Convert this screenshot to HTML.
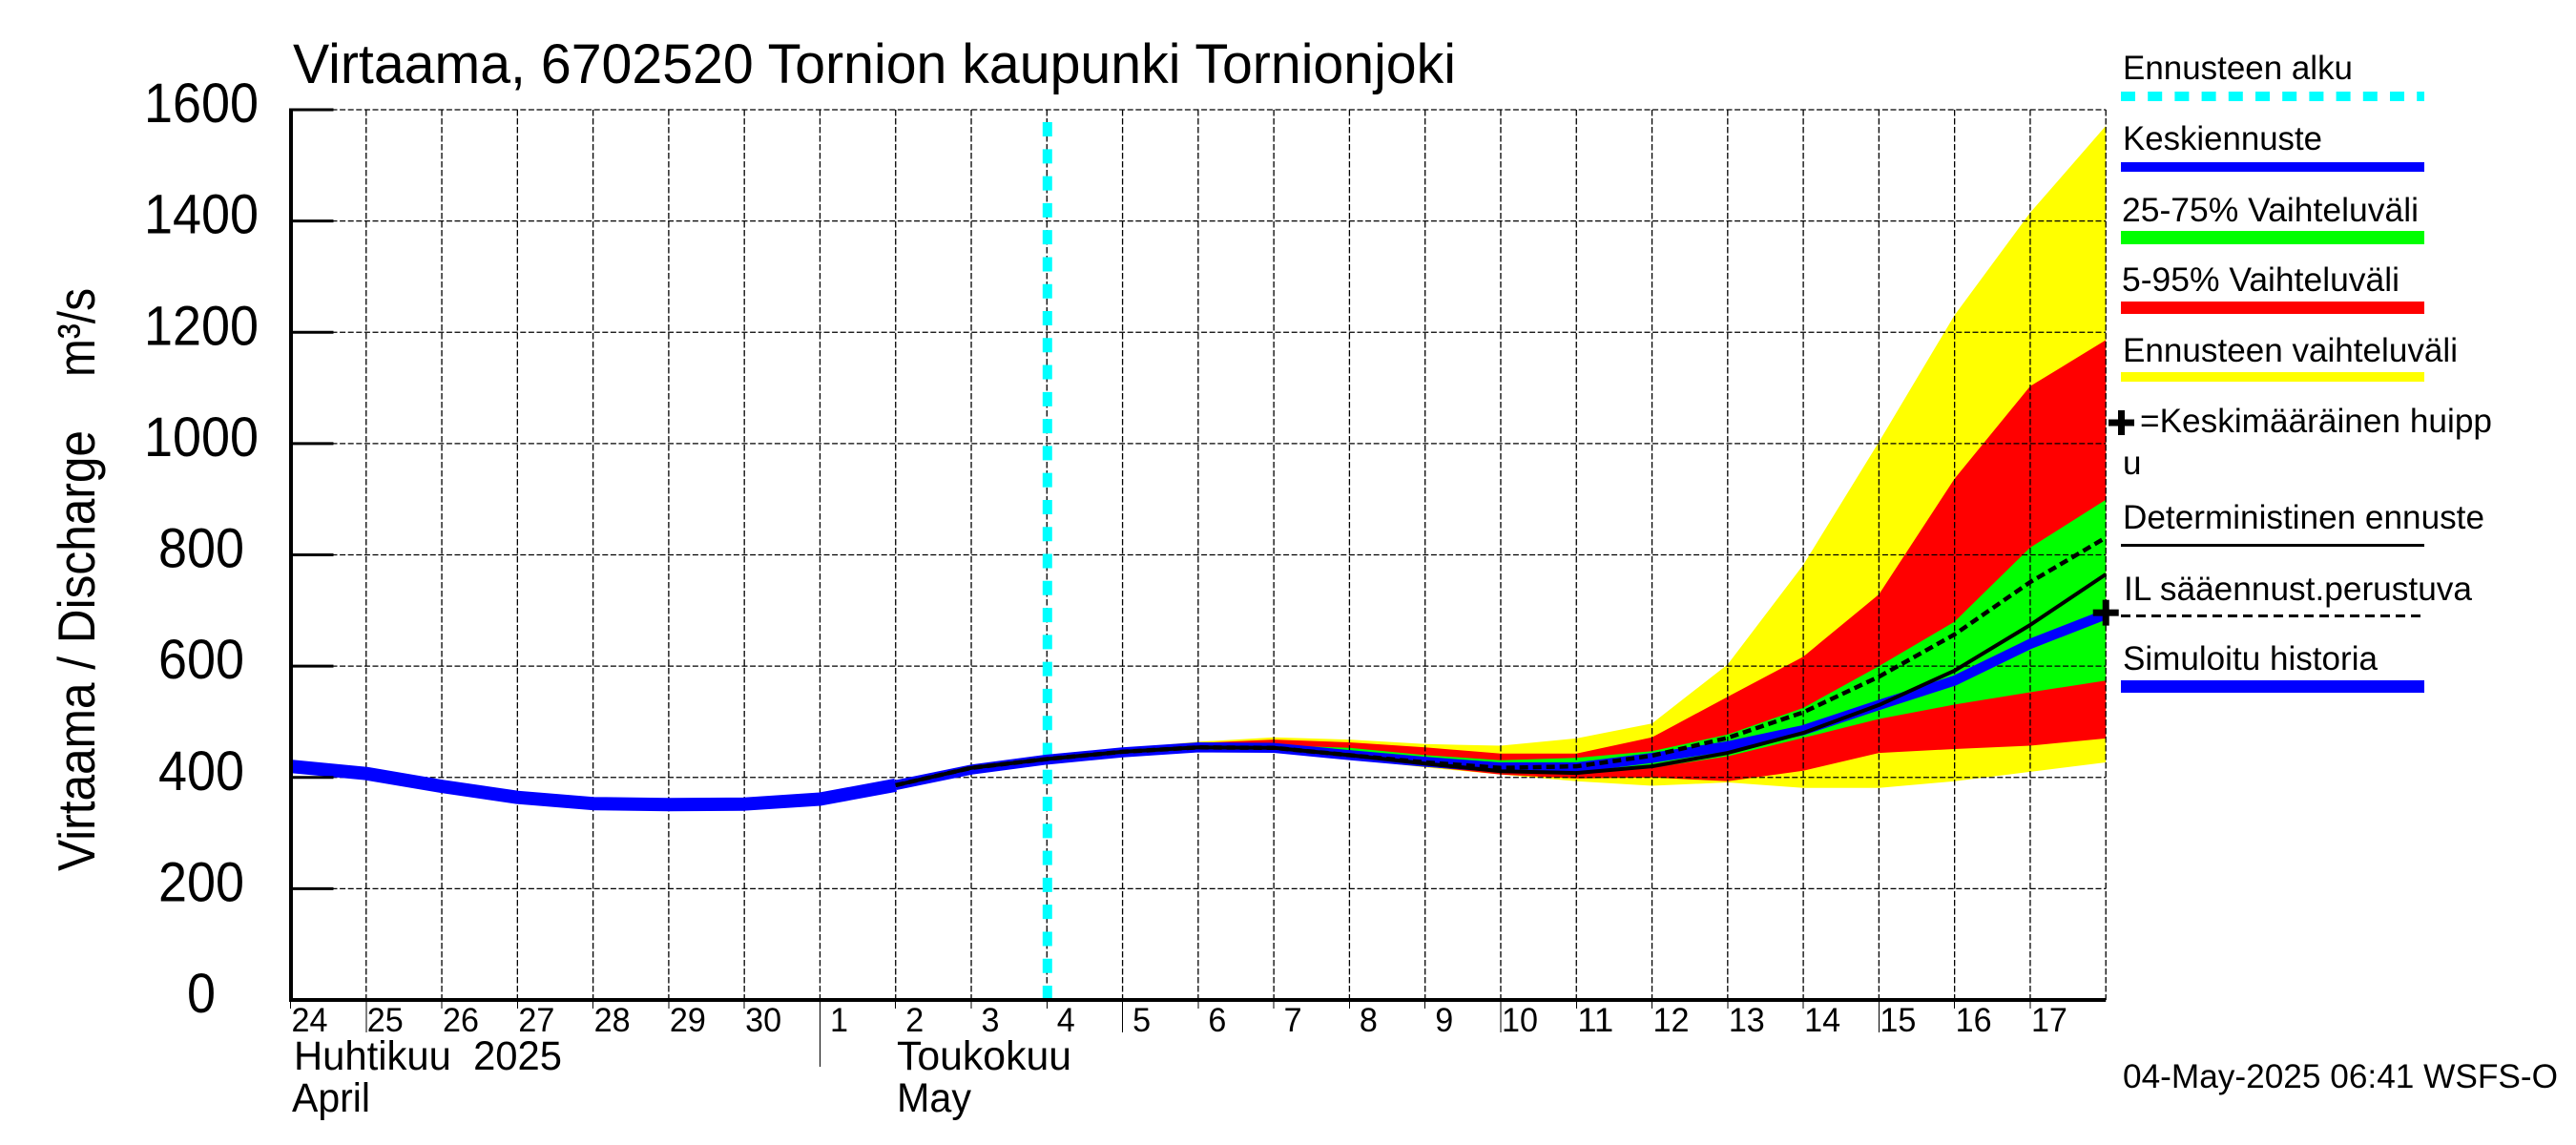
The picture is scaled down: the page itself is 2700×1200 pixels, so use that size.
<!DOCTYPE html>
<html lang="fi">
<head>
<meta charset="utf-8">
<title>Virtaama, 6702520 Tornion kaupunki Tornionjoki</title>
<style>
html,body{margin:0;padding:0;background:#fff;width:2700px;height:1200px;overflow:hidden}
svg{display:block}
text{font-family:"Liberation Sans",sans-serif;fill:#000}
</style>
</head>
<body>
<svg id="chart" xmlns="http://www.w3.org/2000/svg" width="2700" height="1200" viewBox="0 0 2700 1200">
  <rect x="0" y="0" width="2700" height="1200" fill="#fff"/>
  <g id="bands"></g>
  <g id="grid"></g>
  <g id="start"></g>
  <g id="series"></g>
  <g id="axes"></g>

  <text x="307" y="87" font-size="58" textLength="1219" lengthAdjust="spacingAndGlyphs">Virtaama, 6702520 Tornion kaupunki Tornionjoki</text>
  <text transform="translate(99,913) rotate(-90)" font-size="55" textLength="462" lengthAdjust="spacingAndGlyphs">Virtaama / Discharge</text>
  <text transform="translate(99,395) rotate(-90)" font-size="55" textLength="93" lengthAdjust="spacingAndGlyphs">m³/s</text>

  <text x="308" y="1121" font-size="43" textLength="281" lengthAdjust="spacingAndGlyphs" xml:space="preserve">Huhtikuu  2025</text>
  <text x="306" y="1165" font-size="43" textLength="82" lengthAdjust="spacingAndGlyphs">April</text>
  <text x="940" y="1121" font-size="43" textLength="183" lengthAdjust="spacingAndGlyphs">Toukokuu</text>
  <text x="940" y="1165" font-size="43" textLength="78" lengthAdjust="spacingAndGlyphs">May</text>

  <g>
    <text x="2225" y="83" font-size="35" textLength="241" lengthAdjust="spacingAndGlyphs">Ennusteen alku</text>
    <line x1="2223" y1="101" x2="2541" y2="101" stroke="#00ffff" stroke-width="10" stroke-dasharray="15 13.2"/>
    <text x="2225" y="157" font-size="35" textLength="209" lengthAdjust="spacingAndGlyphs">Keskiennuste</text>
    <rect x="2223" y="170" width="318" height="10" fill="#0000ff"/>
    <text x="2224" y="232" font-size="35" textLength="311" lengthAdjust="spacingAndGlyphs">25-75% Vaihteluväli</text>
    <rect x="2223" y="242" width="318" height="14" fill="#00ff00"/>
    <text x="2224" y="305" font-size="35" textLength="291" lengthAdjust="spacingAndGlyphs">5-95% Vaihteluväli</text>
    <rect x="2223" y="316" width="318" height="13" fill="#ff0000"/>
    <text x="2225" y="379" font-size="35" textLength="351" lengthAdjust="spacingAndGlyphs">Ennusteen vaihteluväli</text>
    <rect x="2223" y="390" width="318" height="10" fill="#ffff00"/>
    <g>
      <rect x="2210" y="439.5" width="27" height="7" fill="#000"/>
      <rect x="2220" y="430" width="7" height="26" fill="#000"/>
    </g>
    <text x="2243" y="453" font-size="35" textLength="369" lengthAdjust="spacingAndGlyphs">=Keskimääräinen huipp</text>
    <text x="2225" y="497" font-size="35">u</text>
    <text x="2225" y="554" font-size="35" textLength="379" lengthAdjust="spacingAndGlyphs">Deterministinen ennuste</text>
    <rect x="2223" y="570" width="318" height="3" fill="#000"/>
    <text x="2226" y="629" font-size="35" textLength="365" lengthAdjust="spacingAndGlyphs">IL sääennust.perustuva</text>
    <line x1="2223" y1="645.5" x2="2541" y2="645.5" stroke="#000" stroke-width="3" stroke-dasharray="10 6"/>
    <text x="2225" y="702" font-size="35" textLength="267" lengthAdjust="spacingAndGlyphs">Simuloitu historia</text>
    <rect x="2223" y="713" width="318" height="13" fill="#0000ff"/>
  </g>

  <text x="2225" y="1140" font-size="35" textLength="456" lengthAdjust="spacingAndGlyphs">04-May-2025 06:41 WSFS-O</text>
</svg>

<script>
// ---- chart data ----
const yTickValues = [0, 200, 400, 600, 800, 1000, 1200, 1400, 1600];
const dayLabels = ['24','25','26','27','28','29','30','1','2','3','4','5','6','7','8','9','10','11','12','13','14','15','16','17'];
const longTickLabels = ['25','5','10','15'];
const monthStartLabels = ['1'];
const forecastStartDay = 10;
const historyDays = [0,1,2,3,4,5,6,7,8];
const historyValues = [420,407,384,364,353,351,352,361,386];
const forecastDays = [10,11,12,13,14,15,16,17,18,19,20,21,22,23,24];
const yellowUpper = [432,452,464,472,468,460,457,470,497,603,782,1003,1231,1415,1571];
const yellowLower = [432,444,449,446,433,418,405,393,385,391,381,381,393,410,427];
const redUpper = [432,450,462,468,463,454,443,443,472,545,617,729,937,1103,1186];
const redLower = [432,444,450,447,434,420,405,398,400,393,412,444,451,457,470];
const greenUpper = [432,448,456,458,453,440,431,435,447,477,525,600,680,813,899];
const greenLower = [432,444,450,448,436,422,408,405,417,438,471,505,531,553,574];
const meanDays = [8,9,10,11,12,13,14,15,16,17,18,19,20,21,22,23,24];
const meanForecast = [386,414,432,445,454,453,440,428,418,418,435,456,485,530,574,640,693];
const deterministicDays = [8,9,10,11,12,13,14,15,16,17,18,19,20,21,22,23,24];
const deterministicValues = [386,417,433,446,454,453,440,425,411,408,420,444,480,530,592,674,765];
const ilForecastValues = [386,417,433,446,454,453,440,427,417,420,439,471,517,581,657,751,831];
const meanPeakDay = [24];
const meanPeakValue = [696];

// ---- axis functions ----
const X0 = 304.5, DAY_W = 79.28, TOTAL_DAYS = 24;
const Y0 = 1048, Y_SCALE = 933 / 1600;
function xAt(day) { return X0 + day * DAY_W; }
function yAt(value) { return Y0 - value * Y_SCALE; }

const SVG_NS = 'http://www.w3.org/2000/svg';
function mk(parentId, tag, attrs) {
  const el = document.createElementNS(SVG_NS, tag);
  for (const k in attrs) el.setAttribute(k, attrs[k]);
  document.getElementById(parentId).appendChild(el);
  return el;
}
function bandPoints(days, upper, lower) {
  const pts = [];
  days.forEach((d, i) => pts.push(xAt(d).toFixed(1) + ',' + yAt(upper[i]).toFixed(1)));
  for (let i = days.length - 1; i >= 0; i--) pts.push(xAt(days[i]).toFixed(1) + ',' + yAt(lower[i]).toFixed(1));
  return pts.join(' ');
}
function linePoints(days, values) {
  return days.map((d, i) => xAt(d).toFixed(1) + ',' + yAt(values[i]).toFixed(1)).join(' ');
}

// ---- bands ----
const yellowBand = mk('bands', 'polygon', { points: bandPoints(forecastDays, yellowUpper, yellowLower), fill: '#ffff00' });


const redBand = mk('bands', 'polygon', { points: bandPoints(forecastDays, redUpper, redLower), fill: '#ff0000' });


const greenBand = mk('bands', 'polygon', { points: bandPoints(forecastDays, greenUpper, greenLower), fill: '#00ff00' });



// ---- grid ----
yTickValues.forEach((v) => {
  if (v === 0) return;
  const gl = mk('grid', 'line', { x1: xAt(0), x2: xAt(TOTAL_DAYS), y1: yAt(v), y2: yAt(v), stroke: '#000', 'stroke-width': 1.3, 'stroke-dasharray': '6 2.6' });
  
  
});
for (let d = 1; d <= TOTAL_DAYS; d++) {
  const gv = mk('grid', 'line', { x1: xAt(d), x2: xAt(d), y1: yAt(1600), y2: yAt(0), stroke: '#000', 'stroke-width': 1.3, 'stroke-dasharray': '6.5 2.5' });
  
  
}

// ---- forecast start line ----
const startLine = mk('start', 'line', { x1: xAt(forecastStartDay) + 0.5, x2: xAt(forecastStartDay) + 0.5, y1: yAt(0), y2: yAt(1585), stroke: '#00ffff', 'stroke-width': 10, 'stroke-dasharray': '15 13.28' });



// ---- series lines ----
const historyLine = mk('series', 'polyline', { points: linePoints(historyDays, historyValues), fill: 'none', stroke: '#0000ff', 'stroke-width': 14, 'stroke-linejoin': 'round' });


const meanLine = mk('series', 'polyline', { points: linePoints(meanDays, meanForecast), fill: 'none', stroke: '#0000ff', 'stroke-width': 10.5, 'stroke-linejoin': 'round' });


const detLine = mk('series', 'polyline', { points: linePoints(deterministicDays, deterministicValues), fill: 'none', stroke: '#000', 'stroke-width': 4, 'stroke-linejoin': 'round' });


const ilLine = mk('series', 'polyline', { points: linePoints(deterministicDays, ilForecastValues), fill: 'none', stroke: '#000', 'stroke-width': 4.5, 'stroke-dasharray': '9 5' });



meanPeakDay.forEach((d, i) => {
  const px = xAt(d), py = yAt(meanPeakValue[i]);
  const h = mk('series', 'rect', { x: px - 13.5, y: py - 3.5, width: 27, height: 7, fill: '#000' });
  
  
  const v = mk('series', 'rect', { x: px - 3.5, y: py - 13.5, width: 7, height: 27, fill: '#000' });
  
  
});

// ---- axes ----
const yAxisLine = mk('axes', 'rect', { x: X0 - 1.5, y: yAt(1600) - 1.5, width: 4, height: yAt(0) - yAt(1600) + 3, fill: '#000' });


const xAxisLine = mk('axes', 'rect', { x: X0 - 1.5, y: yAt(0) - 2, width: xAt(TOTAL_DAYS) - X0 + 1.5, height: 4, fill: '#000' });



yTickValues.forEach((v) => {
  if (v !== 0) {
    const t = mk('axes', 'rect', { x: X0, y: yAt(v) - 1.5, width: 45, height: 3, fill: '#000' });
    
    
  }
  const s = String(v);
  const lab = mk('axes', 'text', { x: 211, y: yAt(v) + 13, 'font-size': 58, 'text-anchor': 'middle', textLength: s.length * 30, lengthAdjust: 'spacingAndGlyphs' });
  lab.textContent = s;
  
  
});

dayLabels.forEach((lbl, d) => {
  let tickEnd = 1057;
  if (longTickLabels.includes(lbl)) tickEnd = 1082;
  if (monthStartLabels.includes(lbl)) tickEnd = 1118;
  const t = mk('axes', 'line', { x1: xAt(d), x2: xAt(d), y1: yAt(0), y2: tickEnd, stroke: '#000', 'stroke-width': 1, 'shape-rendering': 'crispEdges' });
  
  
  const lab = mk('axes', 'text', { x: xAt(d) + 20, y: 1081, 'font-size': 35.5, 'text-anchor': 'middle', textLength: lbl.length * 19, lengthAdjust: 'spacingAndGlyphs' });
  lab.textContent = lbl;
  
  
});
</script>
</body>
</html>
